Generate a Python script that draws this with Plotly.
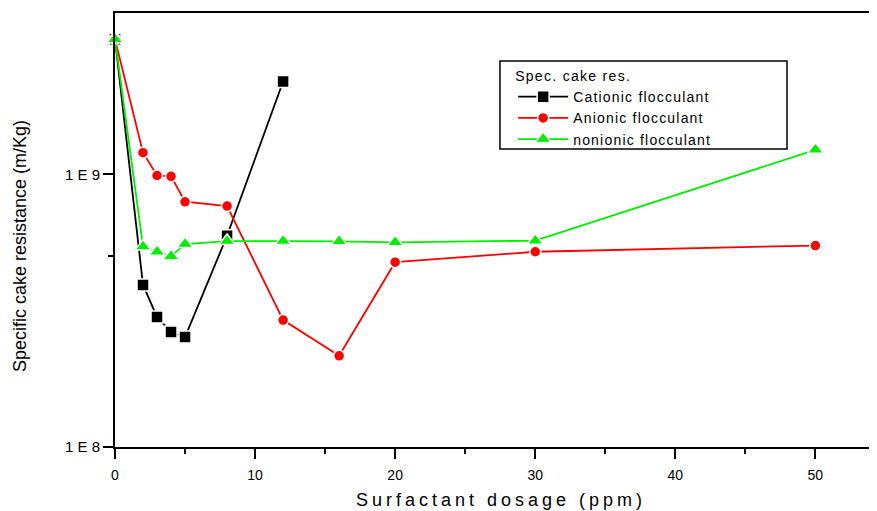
import plotly.graph_objects as go

dosage_cationic = [0, 2, 3, 4, 5, 8, 12]
res_cationic = [3.13e9, 3.93e8, 3.0e8, 2.64e8, 2.53e8, 5.95e8, 2.19e9]

dosage_anionic = [0, 2, 3, 4, 5, 8, 12, 16, 20, 30, 50]
res_anionic = [3.13e9, 1.20e9, 0.99e9, 0.983e9, 7.93e8, 7.65e8, 2.92e8, 2.16e8, 4.76e8, 5.2e8, 5.48e8]

dosage_nonionic = [0, 2, 3, 4, 5, 8, 12, 16, 20, 30, 50]
res_nonionic = [3.13e9, 5.43e8, 5.2e8, 5.01e8, 5.55e8, 5.69e8, 5.69e8, 5.68e8, 5.63e8, 5.71e8, 1.23e9]

y_tickvals = [1e8, 1e9]
y_ticktext = ["1 E 8", "1 E 9"]
x_tickvals = [0, 10, 20, 30, 40, 50]

FONT = "Liberation Sans, Arial, sans-serif"


def spaced(text, px):
    return f'<span style="letter-spacing:{px}px">{text}</span>'


fig = go.Figure()
fig.add_trace(go.Scatter(
    x=dosage_cationic, y=res_cationic, mode="lines+markers",
    name=spaced("Cationic flocculant", 1.2), cliponaxis=False,
    line=dict(color="black", width=1.8),
    marker=dict(symbol="square", size=12, color="black", line=dict(color="white", width=1.5)),
))
fig.add_trace(go.Scatter(
    x=dosage_anionic, y=res_anionic, mode="lines+markers",
    name=spaced("Anionic flocculant", 1.2), cliponaxis=False,
    line=dict(color="#ff0000", width=1.8),
    marker=dict(symbol="circle", size=11, color="#ff0000", line=dict(color="white", width=1.5)),
))
fig.add_trace(go.Scatter(
    x=dosage_nonionic, y=res_nonionic, mode="lines+markers",
    name=spaced("nonionic flocculant", 1.2), cliponaxis=False,
    line=dict(color="#00ee00", width=1.8),
    marker=dict(symbol="triangle-up", size=14, color="#00ee00", line=dict(color="white", width=1.5)),
))

# page body has an 8px margin: figure sized to fit the 877x511 window
fig.update_layout(
    width=869, height=503,
    margin=dict(l=107, r=0, t=5, b=64),
    paper_bgcolor="white", plot_bgcolor="white",
    font=dict(family=FONT, color="black", size=13),
    showlegend=True,
    legend=dict(
        title=dict(text=spaced("Spec. cake res.", 1.3), font=dict(size=14)),
        x=0.5225, y=0.885, xanchor="left", yanchor="top",
        borderwidth=0, bgcolor="rgba(0,0,0,0)",
        font=dict(size=14), tracegroupgap=0, itemwidth=50,
    ),
    shapes=[
        dict(type="rect", xref="paper", yref="paper", x0=0.5052, x1=0.8819, y0=0.6866, y1=0.8894,
             line=dict(color="black", width=1.5), fillcolor="white", layer="below"),
    ],
    xaxis=dict(
        range=[0, 54.4], showgrid=False, zeroline=False, automargin=False,
        showline=True, linecolor="black", linewidth=2, mirror=True,
        ticks="outside", ticklen=10, tickwidth=2, tickcolor="black",
        tickmode="array", tickvals=x_tickvals, ticklabelstandoff=4,
        tickfont=dict(size=14),
        minor=dict(tickmode="array", tickvals=[5, 15, 25, 35, 45], ticks="outside", ticklen=5, tickwidth=2, tickcolor="black"),
    ),
    yaxis=dict(
        type="log", range=[8, 9.5915], showgrid=False, zeroline=False, automargin=False,
        showline=True, linecolor="black", linewidth=2,
        ticks="outside", ticklen=10, tickwidth=2, tickcolor="black",
        tickmode="array", tickvals=y_tickvals, ticktext=y_ticktext,
        tickfont=dict(size=15),
        minor=dict(tickmode="array", tickvals=[5e8], ticks="outside", ticklen=5, tickwidth=2, tickcolor="black"),
    ),
    annotations=[
        dict(text=spaced("Surfactant dosage (ppm)", 4), xref="paper", yref="paper",
             x=0.5066, y=-0.122, xanchor="center", yanchor="middle", showarrow=False,
             font=dict(size=18)),
        dict(text="Specific cake resistance (m/Kg)", xref="paper", yref="paper",
             x=-0.1247, y=0.463, xanchor="center", yanchor="middle", showarrow=False,
             textangle=-90, font=dict(size=18)),
    ],
)

fig.write_html("out.html")
